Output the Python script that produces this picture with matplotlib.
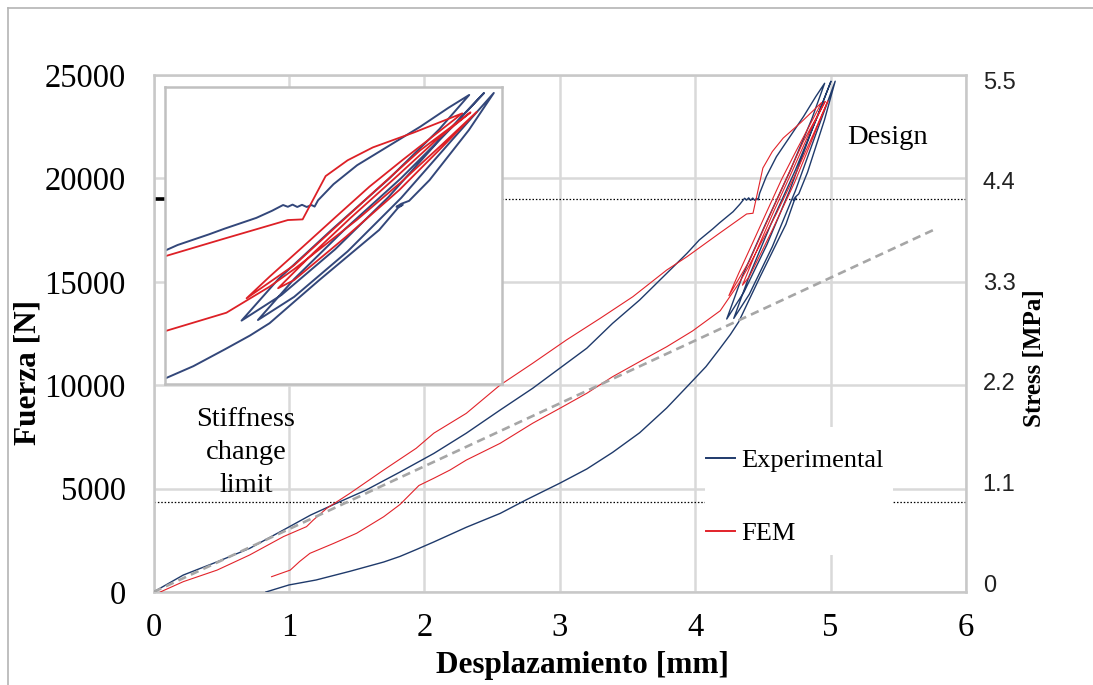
import matplotlib
matplotlib.use("Agg")
import matplotlib.pyplot as plt
from matplotlib.lines import Line2D
from matplotlib.patches import Rectangle

# ---------------- data ----------------
exp_x = [0.00, 0.22, 0.47, 0.71, 0.96, 1.16, 1.35, 1.57, 1.82, 2.07,
         2.31, 2.56, 2.80, 3.00, 3.20, 3.39, 3.59, 3.79, 3.94, 4.03,
         4.13, 4.18, 4.28, 4.33, 4.365, 4.38, 4.395, 4.41, 4.425, 4.44,
         4.455, 4.465,
         4.476, 4.525, 4.60, 4.70, 4.80, 4.89, 4.956,
         4.86, 4.70, 4.52, 4.35, 4.233,
         4.36, 4.53, 4.70, 4.86, 5.003,
         4.90, 4.74, 4.56, 4.40, 4.285,
         4.40, 4.57, 4.74, 4.90, 5.034,
         4.955, 4.83, 4.765, 4.74, 4.725, 4.745, 4.73, 4.67, 4.48, 4.40,
         4.322, 4.26, 4.18, 4.08, 3.94, 3.79, 3.59, 3.39, 3.20, 3.00,
         2.75, 2.56, 2.31, 2.07, 1.94, 1.82, 1.70, 1.45, 1.20, 1.00, 0.83]
exp_y = [0, 820, 1460, 2110, 3000, 3720, 4290, 4930, 5800, 6700,
         7680, 8800, 9850, 10820, 11790, 12990, 14120, 15410, 16380, 17020,
         17560, 17850, 18390, 18750, 19040, 18950, 19060, 18940, 19050, 18940,
         19040, 18960,
         19280, 20090, 21050, 22020, 22990, 23950, 24600,
         22850, 20350, 17800, 15300, 13200,
         14500, 16800, 19450, 22300, 24700,
         22950, 20400, 17800, 15300, 13230,
         14400, 16700, 19400, 22300, 24700,
         22830, 20300, 19250, 19100, 18950, 19050, 18900, 17780, 15250, 14150,
         13070, 12450, 11750, 10900, 9930, 8900, 7700, 6750, 5950, 5260,
         4450, 3800, 3130, 2420, 2050, 1720, 1450, 1000, 580, 340, 0]

fem_x = [0.05, 0.22, 0.47, 0.71, 0.96, 1.13, 1.18, 1.28, 1.45, 1.70,
         1.94, 2.07, 2.31, 2.56, 2.80, 3.05, 3.30, 3.54, 3.79, 3.94,
         4.18, 4.38, 4.427,
         4.50, 4.57, 4.65, 4.78, 4.934,
         4.839, 4.744, 4.639, 4.533, 4.428, 4.322, 4.249,
         4.40, 4.53, 4.66, 4.80, 4.96,
         4.85, 4.72, 4.58, 4.46, 4.349,
         4.40, 4.565, 4.734, 4.871, 4.98,
         4.87, 4.74, 4.60, 4.48, 4.40, 4.322, 4.185, 3.98, 3.79, 3.59,
         3.39, 3.20, 3.00, 2.80, 2.56, 2.31, 2.19, 2.07, 1.96, 1.82,
         1.70, 1.50, 1.33, 1.155, 1.08, 1.01, 0.872]
fem_y = [0, 500, 1060, 1790, 2680, 3160, 3480, 4050, 4770, 5900,
         6950, 7680, 8640, 10010, 11060, 12190, 13240, 14280, 15570, 16215,
         17350, 18280, 18314,
         20500, 21300, 21950, 22700, 23670,
         22490, 21310, 19965, 18450, 16935, 15420, 14330,
         16000, 17900, 19800, 21800, 23720,
         22300, 20400, 18400, 16600, 14835,
         15250, 17440, 19800, 21985, 23750,
         22100, 20200, 18300, 16800, 15800, 14915, 13600, 12620, 11860, 11140,
         10410, 9610, 8880, 8160, 7190, 6380, 5900, 5500, 5150, 4230,
         3640, 2840, 2350, 1870, 1480, 1060, 740]

trend_x = [0.0, 5.79]
trend_y = [0, 17600]

design_level = 19000
stiffness_level = 4340

x_ticks = [0, 1, 2, 3, 4, 5, 6]
y_ticks = [0, 5000, 10000, 15000, 20000, 25000]
stress_ticks = [0, 1.1, 2.2, 3.3, 4.4, 5.5]
stress_labels = ["0", "1.1", "2.2", "3.3", "4.4", "5.5"]

series_labels = ["Experimental", "FEM"]

# ---------------- style ----------------
C_EXP = "#1F3A6B"
C_FEM = "#E2232A"
C_GRID = "#D9D9D9"
C_SPINE = "#C8C8C8"
SERIF = "Liberation Serif"
NARROW = ["Liberation Sans Narrow", "Liberation Sans"]

plt.rcParams["font.family"] = SERIF

W, H = 1093, 685
fig = plt.figure(figsize=(W / 100, H / 100), dpi=100)


def fx(px):
    return px / W


def fy(py):
    return 1 - py / H


# outer chart frame (left and top edges visible)
fig.add_artist(Line2D([fx(8), fx(8)], [fy(8), 0], color="#B4B4B4", lw=1.2))
fig.add_artist(Line2D([fx(8), 1], [fy(8), fy(8)], color="#B4B4B4", lw=1.2))

ax = fig.add_axes([fx(153.5), fy(592), (966 - 153.5) / W, (592 - 75) / H])
ax.set_xlim(0, 6)
ax.set_ylim(0, 25000)
ax.set_xticks(x_ticks)
ax.set_yticks(y_ticks)
ax.set_xticklabels([str(t) for t in x_ticks])
ax.set_yticklabels([str(t) for t in y_ticks])
ax.tick_params(axis="both", length=0, labelsize=23.5)
ax.tick_params(axis="y", pad=20)
ax.tick_params(axis="x", pad=15)
ax.grid(True, color=C_GRID, lw=1.8)
ax.set_axisbelow(True)
for s in ax.spines.values():
    s.set_color(C_SPINE)
    s.set_linewidth(1.8)

# reference lines
ax.axhline(stiffness_level, color="black", lw=0.9, ls=(0, (1.2, 1.5)), zorder=2)
ax.axhline(design_level, color="black", lw=0.9, ls=(0, (1.2, 1.5)), zorder=2)
ax.hlines(design_level, 0, 0.09, color="black", lw=2.6, zorder=2)

# data
ax.plot(exp_x, exp_y, color=C_EXP, lw=1.0, zorder=3)
ax.plot(fem_x, fem_y, color=C_FEM, lw=0.8, zorder=3)
ax.plot(trend_x, trend_y, color="#A6A6A6", lw=1.9, ls=(0, (3.2, 2.0)), zorder=4)

ax.text(5.42, 21955, "Design", fontsize=20.5, ha="center", va="center")
ax.text(0.683, 6760, "Stiffness\nchange\nlimit", fontsize=20.5, ha="center",
        va="center", multialignment="center", linespacing=1.42)

# right stress axis
ax2 = ax.twinx()
ax2.set_ylim(-0.098, 5.555)
ax2.set_yticks(stress_ticks)
ax2.set_yticklabels(stress_labels, family=NARROW, fontsize=17, color="#222222")
ax2.tick_params(axis="y", length=0, pad=12)
for s in ax2.spines.values():
    s.set_visible(False)

# axis titles
fig.text(fx(583), fy(665), "Desplazamiento [mm]", fontsize=22.5, fontweight="bold",
         ha="center", va="center")
fig.text(fx(28), fy(372), "Fuerza [N]", fontsize=22.5, fontweight="bold", rotation=90,
         ha="center", va="center")
fig.text(fx(1035), fy(358), "Stress [MPa]", fontsize=18, fontweight="bold", rotation=90,
         ha="center", va="center")

# legend area (white box covering grid)
fig.add_artist(Rectangle((fx(705), fy(555)), (893 - 705) / W, (555 - 427) / H,
                         transform=fig.transFigure, facecolor="white",
                         edgecolor="none", zorder=1))
handles = [Line2D([], [], color=C_EXP, lw=1.4), Line2D([], [], color=C_FEM, lw=1.4)]
leg = fig.legend(handles, series_labels, loc="upper left",
                 bbox_to_anchor=(fx(706), fy(449)), frameon=False, fontsize=19,
                 borderpad=0, borderaxespad=0, handlelength=1.1, handletextpad=0.25,
                 labelspacing=1.85)
leg.set_zorder(2)

# inset (zoom of the cyclic region)
ins = fig.add_axes([fx(165), fy(384), 337 / W, 297 / H], zorder=5)
ins.set_xlim(3.99, 5.06)
ins.set_ylim(10000, 25000)
ins.set_xticks([])
ins.set_yticks([])
for s in ins.spines.values():
    s.set_color("#C0C0C0")
    s.set_linewidth(1.8)
ins.plot(exp_x, exp_y, color="#33477A", lw=1.4)
ins.plot(fem_x, fem_y, color="#DD2026", lw=1.3)

fig.savefig("out.png", dpi=100)
